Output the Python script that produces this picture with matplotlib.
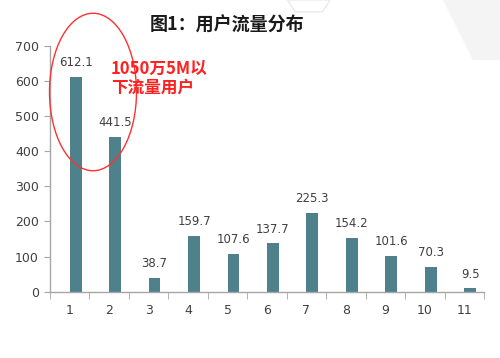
import matplotlib
matplotlib.use("Agg")
from matplotlib import pyplot as plt
from matplotlib.patches import Ellipse, Polygon

plt.rcParams["font.family"] = ["DejaVu Sans", "Noto Sans CJK SC"]

categories = [1, 2, 3, 4, 5, 6, 7, 8, 9, 10, 11]
values = [612.1, 441.5, 38.7, 159.7, 107.6, 137.7, 225.3, 154.2, 101.6, 70.3, 9.5]
title = "图1：用户流量分布"
note = "1050万5M以\n下流量用户"

bar_color = "#4f818c"
axis_color = "#a6a6a6"
text_color = "#404040"

fig = plt.figure(figsize=(5, 3.58), dpi=100)
fig.patch.set_facecolor("white")

# faint background shapes, as in the slide
fig.patches.append(Polygon([(0.575, 1.0), (0.59, 0.967), (0.645, 0.967), (0.66, 1.0)],
                           closed=True, transform=fig.transFigure, facecolor="white",
                           edgecolor="#e6e6e6", linewidth=0.8))
fig.patches.append(Polygon([(0.886, 1.0), (0.946, 0.832), (1.0, 0.832), (1.0, 1.0)],
                           closed=True, transform=fig.transFigure, facecolor="#f4f4f4",
                           edgecolor="none"))

ax = fig.add_axes([0.1, 0.185, 0.868, 0.687])

offset = 0.15
xs = [c + offset for c in categories]
ax.bar(xs, values, width=0.3, color=bar_color, zorder=2)

for x, v in zip(xs, values):
    ax.text(x, v + 22, f"{v:.1f}", ha="center", va="bottom", fontsize=8.5, color=text_color)

ax.set_xlim(0.5, 11.5)
ax.set_ylim(0, 700)
ax.set_yticks(range(0, 701, 100))
ax.set_xticks(categories)
ax.set_xticks([c - 0.5 for c in categories] + [11.5], minor=True)

ax.tick_params(axis="x", which="major", length=0, pad=9, labelsize=9, labelcolor=text_color)
ax.tick_params(axis="x", which="minor", length=5, color=axis_color, direction="out")
ax.tick_params(axis="y", length=4, color=axis_color, labelsize=9, labelcolor=text_color, pad=4)

for side in ["top", "right"]:
    ax.spines[side].set_visible(False)
for side in ["left", "bottom"]:
    ax.spines[side].set_color(axis_color)
    ax.spines[side].set_linewidth(1.0)

fig.text(0.454, 0.93, title, ha="center", va="center", fontsize=13, fontweight="bold",
         color="#1a1a1a", family=["Noto Sans CJK SC", "DejaVu Sans"])

fig.text(0.222, 0.833, note, ha="left", va="top", fontsize=12, fontweight="bold",
         color="#ff2020", linespacing=1.05, family=["Noto Sans CJK SC", "DejaVu Sans"])

fig.patches.append(Ellipse((0.186, 0.743), 0.174, 0.44, transform=fig.transFigure,
                           fill=False, edgecolor="#ff3030", linewidth=1.0))

fig.savefig("out.png", dpi=100)
